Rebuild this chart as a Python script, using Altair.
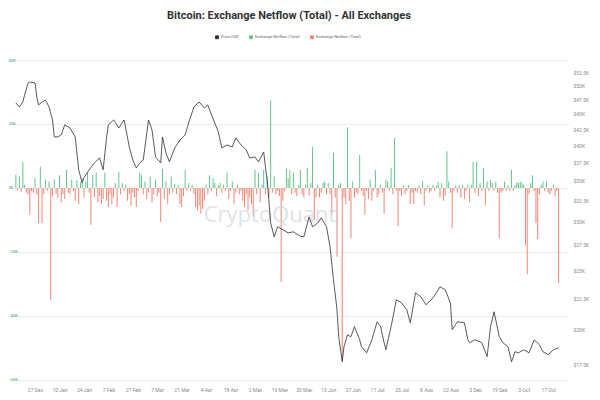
import altair as alt
import pandas as pd

# ---------------- data ----------------
price_dates = [
    "2021-12-16", "2021-12-18", "2021-12-20", "2021-12-21", "2021-12-23", "2021-12-24",
    "2021-12-27", "2021-12-28", "2021-12-29", "2021-12-31", "2022-01-02", "2022-01-04",
    "2022-01-06", "2022-01-07", "2022-01-09", "2022-01-11", "2022-01-13", "2022-01-16",
    "2022-01-19", "2022-01-21", "2022-01-23", "2022-01-24", "2022-01-27", "2022-01-30",
    "2022-02-02", "2022-02-04", "2022-02-06", "2022-02-07", "2022-02-10", "2022-02-13",
    "2022-02-16", "2022-02-19", "2022-02-21", "2022-02-23", "2022-02-25", "2022-02-27",
    "2022-03-02", "2022-03-04", "2022-03-06", "2022-03-09", "2022-03-10", "2022-03-12",
    "2022-03-14", "2022-03-17", "2022-03-20", "2022-03-23", "2022-03-25", "2022-03-28",
    "2022-03-31", "2022-04-03", "2022-04-05", "2022-04-06", "2022-04-09", "2022-04-11",
    "2022-04-13", "2022-04-16", "2022-04-19", "2022-04-21", "2022-04-24", "2022-04-27",
    "2022-04-29", "2022-05-02", "2022-05-04", "2022-05-07", "2022-05-08", "2022-05-09",
    "2022-05-11", "2022-05-13", "2022-05-15", "2022-05-18", "2022-05-21", "2022-05-24",
    "2022-05-28", "2022-05-30", "2022-06-02", "2022-06-04", "2022-06-07", "2022-06-09",
    "2022-06-12", "2022-06-14", "2022-06-16", "2022-06-18", "2022-06-19", "2022-06-21",
    "2022-06-22", "2022-06-24", "2022-06-26", "2022-06-28", "2022-07-01", "2022-07-02",
    "2022-07-05", "2022-07-08", "2022-07-11", "2022-07-13", "2022-07-15", "2022-07-16",
    "2022-07-19", "2022-07-22", "2022-07-25", "2022-07-28", "2022-07-30", "2022-08-01",
    "2022-08-02", "2022-08-05", "2022-08-08", "2022-08-11", "2022-08-14", "2022-08-16",
    "2022-08-19", "2022-08-22", "2022-08-23", "2022-08-26", "2022-08-30", "2022-09-01",
    "2022-09-02", "2022-09-05", "2022-09-09", "2022-09-12", "2022-09-14", "2022-09-16",
    "2022-09-19", "2022-09-21", "2022-09-24", "2022-09-26", "2022-09-28", "2022-09-30",
    "2022-10-03", "2022-10-06", "2022-10-09", "2022-10-12", "2022-10-14", "2022-10-17",
    "2022-10-20", "2022-10-23",
]
price_usd_k = [
    46.90, 46.20, 47.08, 48.33, 50.56, 50.75,
    50.56, 47.97, 46.55, 47.08, 47.43, 46.20,
    44.00, 41.28, 41.28, 41.59, 43.18, 42.69,
    41.28, 36.46, 34.72, 35.38, 36.46, 37.43,
    38.14, 36.46, 41.28, 43.18, 44.00, 42.69,
    44.00, 39.75, 37.85, 36.73, 37.43, 37.85,
    44.00, 42.37, 38.28, 37.43, 41.28, 38.86,
    37.57, 39.60, 40.81, 41.59, 43.50, 46.20,
    47.08, 46.03, 46.55, 45.68, 43.50, 42.06,
    39.60, 40.05, 39.75, 41.12, 40.05, 39.31,
    38.14, 38.28, 37.57, 39.01, 36.87, 35.11,
    29.87, 28.34, 29.43, 29.10, 28.77, 28.88,
    28.40, 28.34, 30.55, 29.43, 29.87, 30.44,
    29.43, 27.30, 24.11, 21.54, 19.46, 17.71,
    18.74, 19.60, 19.46, 20.21, 19.24, 18.74,
    18.32, 19.24, 20.59, 20.21, 19.03, 18.53,
    20.21, 22.36, 22.11, 21.54, 20.51, 22.11,
    22.96, 22.62, 21.95, 22.36, 22.96, 23.48,
    23.22, 22.11, 19.98, 20.59, 20.51, 19.24,
    19.03, 19.24, 19.03, 18.05, 20.21, 21.38,
    19.46, 19.03, 18.74, 17.71, 18.39, 18.32,
    18.53, 18.32, 19.24, 18.88, 18.39, 18.19,
    18.53, 18.67,
]

netflow_start = "2021-12-16"
# daily exchange netflow, thousands of BTC
netflow_k = [
    4.1, -0.8, 3.6, -1.2, 8.1, 1.0, -1.5, -2.0, -8.4, -1.0,
    -1.5, 3.0, -2.0, -11.0, 6.6, -11.0, -2.0, 2.6, -1.0, 2.0,
    -35.0, -2.5, 2.6, -1.8, -3.0, 4.0, -4.5, -2.0, -3.5, 5.7,
    -1.5, -2.0, 2.6, -1.0, -4.0, 2.5, -5.0, 1.8, 3.0, -3.0,
    2.0, 4.8, -1.5, -11.5, 4.0, -3.0, 4.8, -4.5, -2.5, -5.0,
    -3.5, 4.8, -4.0, -6.0, -2.0, -5.0, -3.0, 1.5, -6.0, 5.0,
    -2.0, 1.5, -1.0, 1.0, -4.0, -2.0, -5.5, -1.5, -3.0, -6.0,
    -1.0, 4.8, 4.0, -2.0, 2.0, -3.5, -1.5, 3.6, -4.5, -2.0,
    2.6, -2.5, -1.5, -10.6, 6.0, -3.5, 2.0, -5.0, -2.0, 3.6,
    -1.5, 1.2, -2.0, 1.0, -5.0, -6.0, -2.5, 5.7, -1.0, 1.5,
    -1.0, 1.0, -2.0, -6.0, -7.0, -5.5, -8.0, -6.5, -4.0, 1.0,
    -2.0, 4.0, -1.0, 3.0, 1.5, -2.5, 0.8, 1.5, -1.5, 1.0,
    -1.0, 4.8, -3.5, -1.0, 2.0, -5.0, -1.5, 1.0, -2.0, -1.0,
    -4.0, -6.0, -2.0, -7.0, -3.0, -5.0, -9.0, 5.7, -2.0, 4.8,
    -4.5, 1.0, 5.7, -2.0, 3.6, -3.0, 27.5, -1.5, 3.6, -2.0,
    -1.0, -2.5, -29.4, -4.0, -1.0, 6.0, 3.0, 5.5, -2.0, 4.8,
    -1.5, -2.5, 1.0, 5.6, -2.0, -3.0, 1.0, 6.2, -2.5, 1.5,
    12.8, -10.0, -3.0, 1.0, -3.0, -1.5, 1.5, 2.0, -2.0, 1.5,
    -2.0, -8.0, 11.0, -3.0, -21.5, 1.0, 1.5, -53.8, -3.0, -5.0,
    19.0, -4.0, -15.7, 2.0, -3.0, -1.5, -2.0, 10.3, -1.0, -2.5,
    -8.4, -1.0, -3.5, 2.6, -4.0, -1.0, 5.6, -3.0, -2.0, 1.0,
    -1.5, -8.0, 2.6, 2.0, -1.0, 6.2, -2.0, 15.6, -1.0, -12.0,
    -1.0, -2.5, 0.8, -2.0, -1.0, 0.8, -5.0, -1.5, -5.0, -1.0,
    -1.5, 0.8, -2.0, 2.0, -5.5, -1.0, 0.8, -1.5, -1.0, 1.0,
    -1.0, 0.8, 1.8, -3.0, 1.5, -4.0, -2.5, 11.5, 2.0, -1.5,
    -12.5, -1.0, 0.8, -1.5, 0.8, -3.0, 1.0, -3.5, -1.0, 1.0,
    -4.5, 1.0, 8.1, -1.5, 8.1, -2.5, 1.5, -1.0, 6.2, -5.5,
    2.0, -1.0, 2.5, 1.5, -1.0, 2.0, -1.5, -15.7, -1.5, -1.0,
    2.0, -0.8, 0.8, -1.0, 5.6, -1.0, 0.8, 1.8, 1.5, 2.0,
    1.5, 1.0, -18.0, -27.0, -2.0, 1.5, 4.0, -1.0, -11.0, -16.0,
    -2.0, 1.0, 2.0, -1.0, 2.0, -1.5, -2.0, -1.0, 1.0, -2.5,
    -1.0, -29.7,
]

x_tick_days = [
    (2021, 12, 27), (2022, 1, 10), (2022, 1, 24), (2022, 2, 7), (2022, 2, 21),
    (2022, 3, 7), (2022, 3, 21), (2022, 4, 4), (2022, 4, 18), (2022, 5, 2),
    (2022, 5, 16), (2022, 5, 30), (2022, 6, 13), (2022, 6, 27), (2022, 7, 11),
    (2022, 7, 25), (2022, 8, 8), (2022, 8, 22), (2022, 9, 5), (2022, 9, 19),
    (2022, 10, 3), (2022, 10, 17),
]
price_ticks = [17500, 20000, 22500, 25000, 27500, 30000, 32500, 35000,
               37500, 40000, 42500, 45000, 47500, 50000, 52500]
netflow_ticks = [40000, 20000, 0, -20000, -40000, -60000]

series_names = ["Price USD", "Netflow +", "Netflow -"]
series_colors = ["#2e2e2e", "#66c28c", "#f38474"]

# ---------------- tables ----------------
price_df = pd.DataFrame({
    "date": pd.to_datetime(price_dates),
    "price": [p * 1000 for p in price_usd_k],
    "series": "Price USD",
})
flow_df = pd.DataFrame({
    "date": pd.date_range(netflow_start, periods=len(netflow_k), freq="D"),
    "netflow": [v * 1000 for v in netflow_k],
    "series": ["Netflow +" if v >= 0 else "Netflow -" for v in netflow_k],
})
mark_df = pd.DataFrame({"t": ["CryptoQuant"]})

FONT = "Roboto"

x_enc = alt.X(
    "date:T",
    scale=alt.Scale(domain=[alt.DateTime(year=2021, month=12, date=15, hours=12),
                            alt.DateTime(year=2022, month=10, date=25, hours=12)]),
    axis=alt.Axis(
        values=[alt.DateTime(year=y, month=m, date=d) for (y, m, d) in x_tick_days],
        format="%-d %b", title=None, grid=False, domain=False, ticks=False,
        labelFontSize=5, labelColor="#8a8a8a", labelPadding=4, labelFont=FONT,
    ),
)

legend = alt.Legend(
    orient="none", legendX=205, legendY=-25, direction="horizontal", title=None,
    labelFontSize=4, labelColor="#666", labelFont=FONT, symbolSize=8,
    columnPadding=8, symbolStrokeWidth=1, labelOffset=2,
    labelExpr="datum.label == 'Price USD' ? 'Price USD' : 'Exchange Netflow (Total)'",
)
color_scale = alt.Scale(domain=series_names, range=series_colors)

bars = alt.Chart(flow_df).mark_bar(size=1.0).encode(
    x=x_enc,
    y=alt.Y(
        "netflow:Q",
        scale=alt.Scale(domain=[-61000, 40000], nice=False, zero=False),
        axis=alt.Axis(
            orient="left", values=netflow_ticks, title=None, domain=False, ticks=False,
            labelExpr="format(datum.value / 1000, 'd') + 'K'",
            labelAlign="left", labelPadding=2,
            labelFontSize=4, labelColor="#3aa569", labelFont=FONT,
            grid=True, gridColor="#ececec", gridWidth=1,
        ),
    ),
    color=alt.Color("series:N", scale=color_scale, legend=legend),
)

line = alt.Chart(price_df).mark_line(strokeWidth=0.8).encode(
    x=x_enc,
    y=alt.Y(
        "price:Q",
        scale=alt.Scale(type="log", domain=[16350, 55130], nice=False, zero=False),
        axis=alt.Axis(
            orient="right", values=price_ticks, title=None, domain=False, ticks=False,
            grid=False,
            labelExpr="'$' + format(datum.value / 1000, '.3~g') + 'K'",
            labelFontSize=5, labelColor="#8a8a8a", labelPadding=5, labelFont=FONT,
        ),
    ),
    color=alt.Color("series:N", scale=color_scale, legend=legend),
)

watermark = alt.Chart(mark_df).mark_text(
    fontSize=22, font="Open Sans", color="#c9d0db", opacity=0.6, align="center",
    baseline="middle",
).encode(text="t:N", x=alt.value(260), y=alt.value(155))

chart = alt.layer(bars, watermark, line).resolve_scale(y="independent").properties(
    width=558,
    height=323,
    autosize=alt.AutoSizeParams(type="none"),
    padding={"left": 2, "top": 52, "right": 24, "bottom": 9},
    title=alt.TitleParams(
        "Bitcoin: Exchange Netflow (Total) - All Exchanges",
        fontSize=11, fontWeight="bold", color="#333333", font=FONT,
        anchor="middle", offset=14,
    ),
).configure_view(stroke=None)

chart.save("out.html", embed_options={"renderer": "svg", "actions": False})
